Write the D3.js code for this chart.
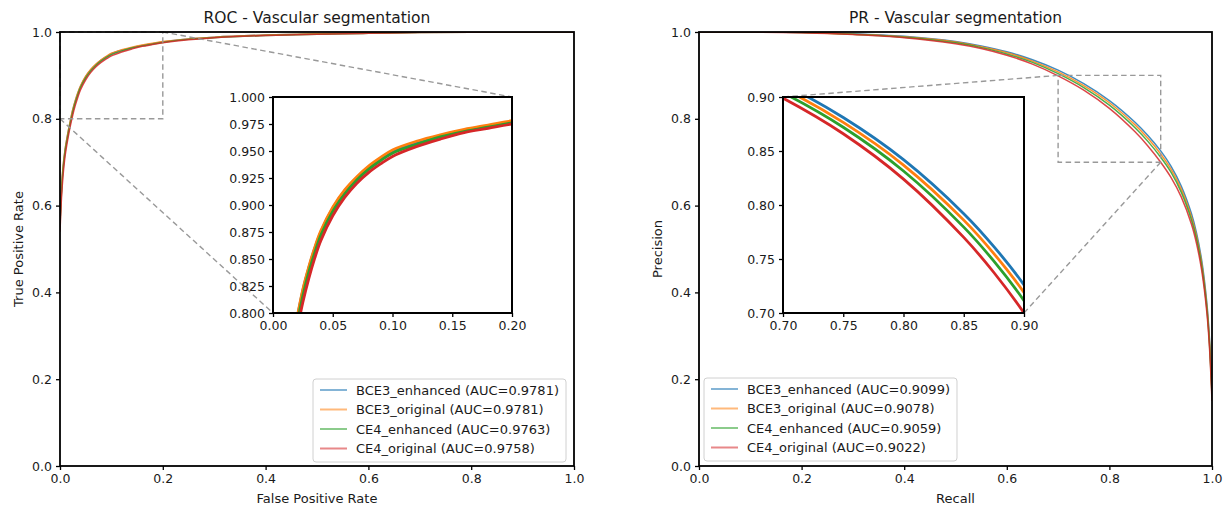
<!DOCTYPE html>
<html>
<head>
<meta charset="utf-8">
<script src="https://cdn.jsdelivr.net/npm/d3@7"></script>
<style>
body { margin: 0; background: #fff; }
text { font-family: "DejaVu Sans", sans-serif; fill: #1a1a1a; }
</style>
</head>
<body>
<svg id="chart" width="1225" height="511"></svg>
<script>
// series names / colours
var seriesNames = ['BCE3_enhanced', 'BCE3_original', 'CE4_enhanced', 'CE4_original'];
var seriesColors = ['#1f77b4', '#ff7f0e', '#2ca02c', '#d62728'];
var rocAuc = ['0.9781', '0.9781', '0.9763', '0.9758'];
var prAuc = ['0.9099', '0.9078', '0.9059', '0.9022'];

// ROC curves
var rocFpr = [0, 0.003, 0.006, 0.01, 0.015, 0.02, 0.025, 0.03, 0.035, 0.04, 0.05, 0.06, 0.07, 0.08, 0.09, 0.10,
    0.12, 0.14, 0.16, 0.18, 0.20, 0.25, 0.30, 0.40, 0.50, 0.60, 0.70, 0.80, 0.90, 1.0];
var rocTprBce3Enh = [0.56, 0.638, 0.688, 0.729, 0.764, 0.794, 0.821, 0.842, 0.860, 0.875, 0.897, 0.913, 0.925, 0.935, 0.943, 0.950,
    0.958, 0.964, 0.969, 0.973, 0.977, 0.984, 0.988, 0.993, 0.996, 0.998, 0.9993, 0.9998, 1.0, 1.0];
var rocTprBce3Orig = [0.56, 0.64, 0.69, 0.73, 0.765, 0.795, 0.822, 0.843, 0.861, 0.876, 0.898, 0.914, 0.926, 0.936, 0.944, 0.951,
    0.959, 0.965, 0.970, 0.974, 0.978, 0.984, 0.988, 0.993, 0.996, 0.998, 0.9993, 0.9998, 1.0, 1.0];
var rocTprCe4Enh = [0.55, 0.632, 0.682, 0.724, 0.759, 0.789, 0.816, 0.838, 0.856, 0.872, 0.894, 0.910, 0.923, 0.933, 0.941, 0.948,
    0.956, 0.963, 0.968, 0.972, 0.976, 0.983, 0.987, 0.992, 0.995, 0.997, 0.999, 0.9996, 1.0, 1.0];
var rocTprCe4Orig = [0.54, 0.62, 0.67, 0.715, 0.752, 0.783, 0.810, 0.832, 0.851, 0.867, 0.890, 0.907, 0.920, 0.930, 0.938, 0.945,
    0.954, 0.961, 0.967, 0.971, 0.975, 0.982, 0.987, 0.992, 0.995, 0.997, 0.999, 0.9996, 1.0, 1.0];

// PR curves
var prRecall = [0, 0.1, 0.2, 0.3, 0.4, 0.5, 0.55, 0.6, 0.65, 0.7, 0.75, 0.8, 0.85, 0.875, 0.9,
    0.92, 0.94, 0.96, 0.97, 0.98, 0.99, 0.995, 1.0];
var prPrecBce3Enh = [1.0, 1.0, 0.999, 0.996, 0.990, 0.978, 0.968, 0.9545, 0.936, 0.912, 0.881, 0.842, 0.792, 0.7615, 0.726,
    0.691, 0.645, 0.581, 0.536, 0.473, 0.375, 0.295, 0.170];
var prPrecBce3Orig = [1.0, 1.0, 0.999, 0.995, 0.989, 0.977, 0.966, 0.9525, 0.933, 0.908, 0.8765, 0.837, 0.786, 0.755, 0.719,
    0.684, 0.638, 0.574, 0.529, 0.466, 0.368, 0.289, 0.165];
var prPrecCe4Enh = [1.0, 1.0, 0.999, 0.995, 0.988, 0.975, 0.964, 0.9495, 0.930, 0.904, 0.872, 0.8315, 0.7795, 0.748, 0.7115,
    0.677, 0.631, 0.567, 0.522, 0.459, 0.362, 0.283, 0.160];
var prPrecCe4Orig = [1.0, 1.0, 0.998, 0.994, 0.987, 0.973, 0.962, 0.9465, 0.926, 0.899, 0.866, 0.824, 0.770, 0.7375, 0.700,
    0.665, 0.620, 0.557, 0.512, 0.450, 0.353, 0.275, 0.150];

// tick labels
var mainTicks = [0, 0.2, 0.4, 0.6, 0.8, 1.0];
var rocInsetXTicks = [0, 0.05, 0.10, 0.15, 0.20];
var rocInsetYTicks = [0.800, 0.825, 0.850, 0.875, 0.900, 0.925, 0.950, 0.975, 1.000];
var prInsetTicks = [0.70, 0.75, 0.80, 0.85, 0.90];

var svg = d3.select('#chart');
var line = function(x, y){
    return d3.line().x(function(d){ return x(d[0]) }).y(function(d){ return y(d[1]) }).curve(d3.curveCatmullRom.alpha(0.5));
}
var zip = function(xs, ys){ return xs.map(function(v, i){ return [v, ys[i]] }) }

drawPanel = function(p){
    var g = svg.append('g');
    var x = d3.scaleLinear().domain([0, 1]).range([p.left, p.right]);
    var y = d3.scaleLinear().domain([0, 1]).range([p.bottom, p.top]);
    var clipId = p.id + '-clip';
    svg.append('clipPath').attr('id', clipId).append('rect')
        .attr('x', p.left).attr('y', p.top).attr('width', p.right - p.left).attr('height', p.bottom - p.top);

    // curves
    var cg = g.append('g').attr('clip-path', 'url(#' + clipId + ')');
    p.series.forEach(function(s, i){
        cg.append('path').attr('d', line(x, y)(zip(p.xs, s)))
            .attr('fill', 'none').attr('stroke', seriesColors[i]).attr('stroke-width', 1.5).attr('stroke-opacity', 0.85);
    });

    // inset box and zoom marks
    var ix = d3.scaleLinear().domain(p.inset.xd).range([p.inset.left, p.inset.right]);
    var iy = d3.scaleLinear().domain(p.inset.yd).range([p.inset.bottom, p.inset.top]);
    var dash = function(sel){ return sel.attr('stroke', '#999').attr('stroke-width', 1.4).attr('stroke-dasharray', '5.5,3.5').attr('fill', 'none') }
    dash(g.append('rect').attr('x', x(p.inset.xd[0])).attr('y', y(p.inset.yd[1]))
        .attr('width', x(p.inset.xd[1]) - x(p.inset.xd[0])).attr('height', y(p.inset.yd[0]) - y(p.inset.yd[1])));
    p.inset.links.forEach(function(c){
        dash(g.append('line').attr('x1', x(c[0])).attr('y1', y(c[1])).attr('x2', ix(c[0])).attr('y2', iy(c[1])));
    });

    var ig = g.append('g');
    ig.append('rect').attr('x', p.inset.left).attr('y', p.inset.top)
        .attr('width', p.inset.right - p.inset.left).attr('height', p.inset.bottom - p.inset.top).attr('fill', '#fff');
    var iclip = p.id + '-iclip';
    svg.append('clipPath').attr('id', iclip).append('rect')
        .attr('x', p.inset.left).attr('y', p.inset.top).attr('width', p.inset.right - p.inset.left).attr('height', p.inset.bottom - p.inset.top);
    var icg = ig.append('g').attr('clip-path', 'url(#' + iclip + ')');
    p.series.forEach(function(s, i){
        icg.append('path').attr('d', line(ix, iy)(zip(p.xs, s)))
            .attr('fill', 'none').attr('stroke', seriesColors[i]).attr('stroke-width', 2.8);
    });
    ig.append('g').attr('transform', 'translate(0,' + p.inset.bottom + ')')
        .call(d3.axisBottom(ix).tickValues(p.inset.xt).tickFormat(d3.format(p.inset.xf)).tickSize(4).tickSizeOuter(0).tickPadding(4))
        .call(styleAxis);
    ig.append('g').attr('transform', 'translate(' + p.inset.left + ',0)')
        .call(d3.axisLeft(iy).tickValues(p.inset.yt).tickFormat(d3.format(p.inset.yf)).tickSize(4).tickSizeOuter(0).tickPadding(4))
        .call(styleAxis);
    ig.append('rect').attr('x', p.inset.left).attr('y', p.inset.top)
        .attr('width', p.inset.right - p.inset.left).attr('height', p.inset.bottom - p.inset.top)
        .attr('fill', 'none').attr('stroke', '#000').attr('stroke-width', 2);

    // main axes
    g.append('g').attr('transform', 'translate(0,' + p.bottom + ')')
        .call(d3.axisBottom(x).tickValues(mainTicks).tickFormat(d3.format('.1f')).tickSize(4).tickSizeOuter(0).tickPadding(4))
        .call(styleAxis);
    g.append('g').attr('transform', 'translate(' + p.left + ',0)')
        .call(d3.axisLeft(y).tickValues(mainTicks).tickFormat(d3.format('.1f')).tickSize(4).tickSizeOuter(0).tickPadding(4))
        .call(styleAxis);
    g.append('rect').attr('x', p.left).attr('y', p.top).attr('width', p.right - p.left).attr('height', p.bottom - p.top)
        .attr('fill', 'none').attr('stroke', '#000').attr('stroke-width', 1.8);

    // legend
    var lg = g.append('g');
    var box = lg.append('rect').attr('rx', 3).attr('fill', '#fff').attr('fill-opacity', 0.85)
        .attr('stroke', '#d0d0d0').attr('stroke-width', 1);
    var maxW = 0;
    seriesNames.forEach(function(n, i){
        var yy = p.legend.y + 11 + i * 19.5;
        lg.append('line').attr('x1', p.legend.x + 7).attr('x2', p.legend.x + 34).attr('y1', yy).attr('y2', yy)
            .attr('stroke', seriesColors[i]).attr('stroke-width', 2).attr('stroke-opacity', 0.55);
        var t = lg.append('text').attr('x', p.legend.x + 43).attr('y', yy + 4.5).attr('font-size', '13px')
            .text(n + ' (AUC=' + p.auc[i] + ')');
        maxW = Math.max(maxW, t.node().getComputedTextLength());
    });
    var w = 43 + maxW + 7;
    var lx = p.legend.anchor == 'right' ? p.legend.x - w : p.legend.x;
    lg.attr('transform', 'translate(' + (lx - p.legend.x) + ',0)');
    box.attr('x', p.legend.x).attr('y', p.legend.y).attr('width', w).attr('height', 83);

    // titles
    g.append('text').attr('x', (p.left + p.right) / 2).attr('y', 23).attr('text-anchor', 'middle')
        .attr('font-size', '15.5px').text(p.title);
    g.append('text').attr('x', (p.left + p.right) / 2).attr('y', 503).attr('text-anchor', 'middle')
        .attr('font-size', '13px').text(p.xlabel);
    g.append('text').attr('transform', 'translate(' + (p.left - 37) + ',' + ((p.top + p.bottom) / 2) + ') rotate(-90)')
        .attr('text-anchor', 'middle').attr('font-size', '13px').text(p.ylabel);
}

styleAxis = function(sel){
    sel.select('.domain').remove();
    sel.selectAll('.tick line').attr('stroke', '#000').attr('stroke-width', 1.3);
    sel.selectAll('.tick text').attr('font-size', '12.5px').attr('fill', '#1a1a1a').style('font-family', '"DejaVu Sans", sans-serif');
}

drawPanel({
    id: 'roc', left: 60, right: 574, top: 32, bottom: 466,
    xs: rocFpr, series: [rocTprBce3Enh, rocTprBce3Orig, rocTprCe4Enh, rocTprCe4Orig], auc: rocAuc,
    title: 'ROC - Vascular segmentation', xlabel: 'False Positive Rate', ylabel: 'True Positive Rate',
    inset: {left: 273, right: 512, top: 97, bottom: 313, xd: [0, 0.2], yd: [0.8, 1.0],
        xt: rocInsetXTicks, yt: rocInsetYTicks, xf: '.2f', yf: '.3f', links: [[0, 0.8], [0.2, 1.0]]},
    legend: {x: 566, y: 379, anchor: 'right'}
});
drawPanel({
    id: 'pr', left: 699, right: 1212, top: 32, bottom: 466,
    xs: prRecall, series: [prPrecBce3Enh, prPrecBce3Orig, prPrecCe4Enh, prPrecCe4Orig], auc: prAuc,
    title: 'PR - Vascular segmentation', xlabel: 'Recall', ylabel: 'Precision',
    inset: {left: 783, right: 1024, top: 97, bottom: 313, xd: [0.7, 0.9], yd: [0.7, 0.9],
        xt: prInsetTicks, yt: prInsetTicks, xf: '.2f', yf: '.2f', links: [[0.7, 0.9], [0.9, 0.7]]},
    legend: {x: 704, y: 378, anchor: 'left'}
});
</script>
</body>
</html>
